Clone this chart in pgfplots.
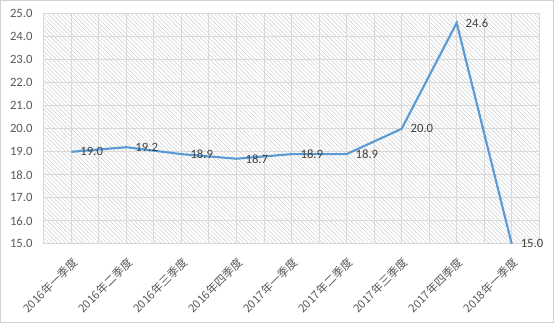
\documentclass[border=0pt]{standalone}
\usepackage{pgfplots}
\pgfplotsset{compat=1.18}
\usepackage{fontspec}
\setmainfont{Carlito}
\newfontfamily\cjk{Noto Sans CJK SC}
\usetikzlibrary{patterns.meta}
\definecolor{lineblue}{HTML}{5B9BD5}
\definecolor{gridgray}{HTML}{D9D9D9}
\definecolor{txtgray}{HTML}{595959}
\definecolor{lblgray}{HTML}{404040}
\begin{document}
\begin{tikzpicture}
\begin{axis}[
  scale only axis, width=371.25pt, height=172.5pt,
  xmin=-0.5, xmax=8.5, ymin=15, ymax=25,
  xtick={0,...,8}, minor xtick={-0.5,0.5,...,8.5},
  xticklabels={2016年一季度,2016年二季度,2016年三季度,2016年四季度,2017年一季度,2017年二季度,2017年三季度,2017年四季度,2018年一季度},
  xticklabel style={yshift=-8pt, font=\cjk\fontsize{8.5}{10}\selectfont, color=txtgray, rotate=45, anchor=north east, inner sep=1pt},
  ytick={15,16,...,25},
  /pgf/number format/assume math mode=true,
  yticklabel style={font=\fontsize{9.5}{11}\selectfont, color=txtgray, /pgf/number format/fixed, /pgf/number format/fixed zerofill, /pgf/number format/precision=1, xshift=-5pt},
  grid=both, major grid style={gridgray, line width=0.75pt}, minor grid style={gridgray, line width=0.75pt},
  axis line style={gridgray, line width=0.75pt},
  major tick length=0pt, minor tick length=0pt,
  axis background/.style={pattern={Lines[angle=-45,distance=2.2pt,line width=0.35pt]}, pattern color=black!20},
  nodes near coords,
  nodes near coords style={/pgf/number format/fixed, /pgf/number format/fixed zerofill, /pgf/number format/precision=1, /pgf/number format/assume math mode=true},
  every node near coord/.append style={anchor=west, xshift=5pt, inner sep=1pt, font=\fontsize{9.5}{11}\selectfont, color=lblgray},
  clip=false,
]
\addplot[color=lineblue, line width=1.6pt] coordinates {
  (0,19.0) (1,19.2) (2,18.9) (3,18.7) (4,18.9) (5,18.9) (6,20.0) (7,24.6) (8,15.0)
};
\end{axis}
\draw[gray!35, line width=0.75pt] ([xshift=-32.5pt,yshift=-58.7pt]current axis.south west) rectangle ([xshift=10.7pt,yshift=9.9pt]current axis.north east);
\end{tikzpicture}
\end{document}
